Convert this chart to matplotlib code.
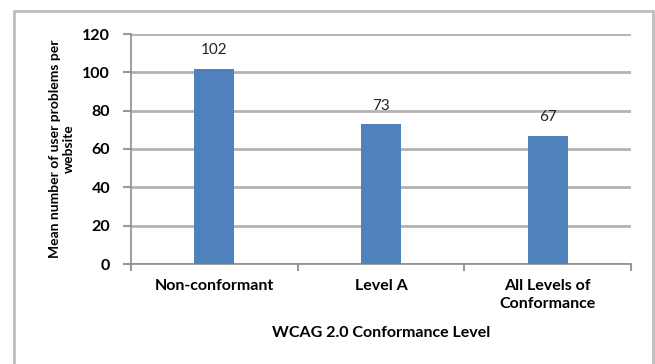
import matplotlib.pyplot as plt
from matplotlib.patches import Rectangle

# mean user problems per website by conformance level
levels = ["Non-conformant", "Level A", "All Levels of\nConformance"]
mean_problems = [102, 73, 67]
y_ticks = [0, 20, 40, 60, 80, 100, 120]

plt.rcParams['font.family'] = ['Lato', 'DejaVu Sans']

fig = plt.figure(figsize=(6.55, 3.64), dpi=100)
ax = fig.add_axes([131 / 655, 1 - 264 / 364, 500 / 655, 230 / 364])

# outer chart frame (runs off the bottom edge)
fig.patches.append(Rectangle((14 / 655, -0.05), 639 / 655, 1.05 - 11 / 364,
                             transform=fig.transFigure, fill=False,
                             edgecolor="#bdbdbd", linewidth=2))

x = range(len(levels))
bars = ax.bar(x, mean_problems, width=0.24, color="#4F81BD", zorder=3)
for b, v in zip(bars, mean_problems):
    ax.text(b.get_x() + b.get_width() / 2, v + 6, str(v),
            ha="center", va="bottom", fontsize=11, color="#222222")

ax.set_xlim(-0.5, 2.5)
ax.set_ylim(0, 120)
ax.set_yticks(y_ticks)
ax.set_xticks(x)
ax.set_xticklabels(levels, fontweight="bold", fontsize=11.5, linespacing=1.3)
for lbl in ax.get_yticklabels():
    lbl.set_fontweight("bold")
    lbl.set_fontsize(11.5)

# minor ticks at category boundaries
ax.set_xticks([-0.5, 0.5, 1.5, 2.5], minor=True)
ax.tick_params(axis="x", which="major", length=0, pad=11)
ax.tick_params(axis="x", which="minor", length=5, color="#999999", width=1.5)
ax.tick_params(axis="y", length=6, color="#999999", width=1.5, pad=9)

ax.grid(axis="y", color="#b3b3b3", linewidth=2, zorder=0)
for s in ["top", "right"]:
    ax.spines[s].set_visible(False)
for s in ["left", "bottom"]:
    ax.spines[s].set_color("#8c8c8c")
    ax.spines[s].set_linewidth(1.2)

ax.set_ylabel("Mean number of user problems per\nwebsite", fontweight="bold",
              fontsize=10, linespacing=1.2)
ax.yaxis.set_label_coords(-0.112, 0.5)
ax.set_xlabel("WCAG 2.0 Conformance Level", fontweight="bold", fontsize=11.5,
              labelpad=11)

fig.savefig("out.png", dpi=100)
